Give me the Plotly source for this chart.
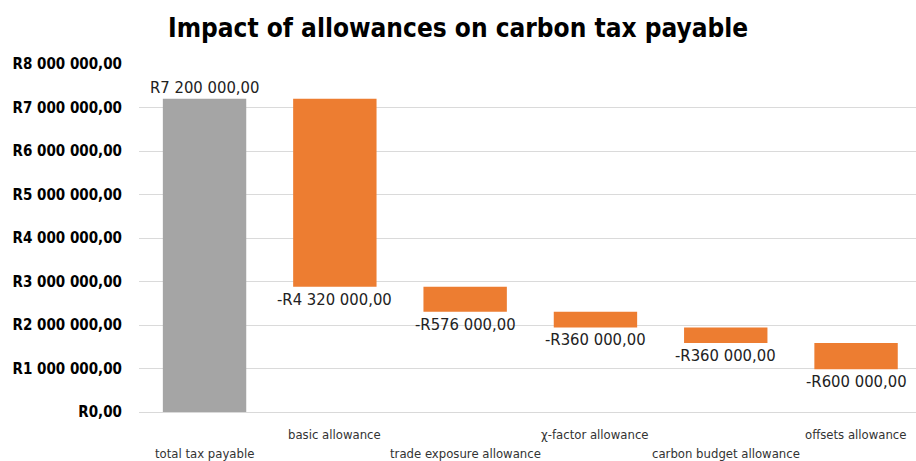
import plotly.graph_objects as go

categories = ["total tax payable", "basic allowance", "trade exposure allowance",
              "χ-factor allowance", "carbon budget allowance", "offsets allowance"]
values = [7200000, -4320000, -576000, -360000, -360000, -600000]
measures = ["absolute", "relative", "relative", "relative", "relative", "relative"]
value_labels = ["R7 200 000,00", "-R4 320 000,00", "-R576 000,00", "-R360 000,00",
                "-R360 000,00", "-R600 000,00"]
tick_vals = [0, 1000000, 2000000, 3000000, 4000000, 5000000, 6000000, 7000000, 8000000]
tick_text = ["R0,00", "R1 000 000,00", "R2 000 000,00", "R3 000 000,00", "R4 000 000,00",
             "R5 000 000,00", "R6 000 000,00", "R7 000 000,00", "R8 000 000,00"]

FONT = "DejaVu Sans Condensed, Roboto, sans-serif"
ORANGE = "#ED7D31"
GREY = "#A5A5A5"

fig = go.Figure()
fig.add_trace(go.Waterfall(
    x=categories, y=values, measure=measures,
    decreasing=dict(marker=dict(color=ORANGE)),
    increasing=dict(marker=dict(color=ORANGE)),
    totals=dict(marker=dict(color=GREY)),
    connector=dict(visible=False),
    width=0.64,
    hoverinfo="skip",
))

running = 0
for i, (c, v, lab) in enumerate(zip(categories, values, value_labels)):
    if measures[i] == "absolute":
        running = v
        fig.add_annotation(x=c, y=running, text=lab, showarrow=False,
                           yanchor="bottom", yshift=0,
                           font=dict(family=FONT, size=16.5, color="#222222"))
    else:
        running += v
        fig.add_annotation(x=c, y=running, text=lab, showarrow=False,
                           yanchor="top", yshift=-1,
                           font=dict(family=FONT, size=16.5, color="#222222"))

for i, c in enumerate(categories):
    fig.add_annotation(x=c, y=0, yref="paper", text=c, showarrow=False,
                       yanchor="middle", yshift=-41 if i % 2 == 0 else -22,
                       font=dict(family=FONT, size=13, color="#333333"))

fig.update_layout(
    width=916, height=461,
    margin=dict(l=139, r=0, t=64, b=49),
    paper_bgcolor="white", plot_bgcolor="white",
    showlegend=False,
    title=dict(text="<b>Impact of allowances on carbon tax payable</b>",
               x=0.5, xanchor="center", y=0.94, yanchor="middle",
               font=dict(family=FONT, size=26, color="black")),
    xaxis=dict(showticklabels=False, showgrid=False, zeroline=False,
               range=[-0.503, 5.46],
               showline=True, linecolor="#d9d9d9", linewidth=1),
    yaxis=dict(range=[0, 8000000], tickvals=tick_vals, ticktext=tick_text,
               showgrid=True, gridcolor="#dadada", gridwidth=1, zeroline=False,
               ticks="", ticklabelstandoff=16,
               tickfont=dict(family=FONT, size=15, color="black", weight="bold")),
)

fig.write_html("out.html")
